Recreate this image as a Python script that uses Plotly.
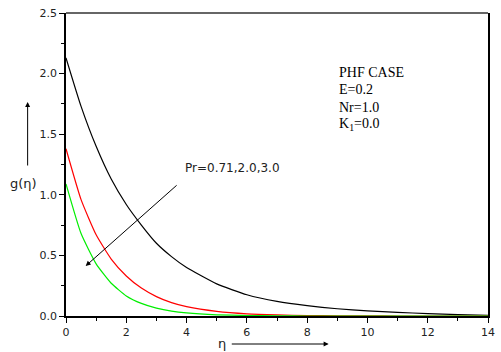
import plotly.graph_objects as go

eta = [0, 0.5, 1, 1.5, 2, 2.5, 3, 3.5, 4, 5, 6, 7, 8, 9, 10, 11, 12, 13, 14]
g_pr071 = [2.13, 1.73, 1.40, 1.13, 0.92, 0.75, 0.60, 0.49, 0.40, 0.265, 0.175, 0.12, 0.085, 0.06, 0.042, 0.03, 0.02, 0.012, 0.006]
g_pr20 = [1.38, 0.96, 0.67, 0.47, 0.33, 0.23, 0.16, 0.11, 0.077, 0.038, 0.018, 0.009, 0.004, 0.002, 0.001, 0.0, 0.0, 0.0, 0.0]
g_pr30 = [1.09, 0.68, 0.43, 0.27, 0.166, 0.104, 0.065, 0.04, 0.025, 0.01, 0.004, 0.001, 0.0, 0.0, 0.0, 0.0, 0.0, 0.0, 0.0]

fig = go.Figure()
for ys, col in [(g_pr071, "#000000"), (g_pr20, "#ff0000"), (g_pr30, "#00ee00")]:
    fig.add_trace(go.Scatter(x=eta, y=ys, mode="lines",
                             line=dict(color=col, width=1.2, shape="spline", smoothing=0.5),
                             showlegend=False, hoverinfo="skip"))

tickfont = dict(family="DejaVu Sans", size=11, color="#222")
fig.update_xaxes(range=[0, 14], tick0=0, dtick=2, ticks="outside", ticklen=5, tickwidth=1,
                 tickcolor="black", showline=True, linecolor="black", linewidth=1.5,
                 showgrid=False, zeroline=False, tickfont=tickfont,
                 minor=dict(tick0=0, dtick=1, ticks="outside", ticklen=3, tickcolor="black",
                            showgrid=False))
fig.update_yaxes(range=[0, 2.5], tick0=0, dtick=0.5, tickformat=".1f", ticks="outside", ticklen=5,
                 tickwidth=1, tickcolor="black", showline=True, linecolor="black", linewidth=1.5,
                 mirror=True, showgrid=False, zeroline=False, tickfont=tickfont,
                 minor=dict(tick0=0, dtick=0.25, ticks="outside", ticklen=3, tickcolor="black",
                            showgrid=False))

serif = dict(family="Liberation Serif, Times New Roman", size=14, color="black")
sans = dict(family="DejaVu Sans", size=12, color="#222")
sans_lbl = dict(family="DejaVu Sans", size=13, color="#222")

L, R, T, B = 66, 495, 13, 316
def px(xp):
    return (xp - L) / (R - L)
def py(yp):
    return (B - yp) / (B - T)

annots = [
    dict(x=341, y=73, text="PHF CASE", font=serif),
    dict(x=341, y=90, text="E=0.2", font=serif),
    dict(x=341, y=107, text="Nr=1.0", font=serif),
    dict(x=341, y=124, text="K<sub>1</sub>=0.0", font=serif),
    dict(x=185, y=168, text="Pr=0.71,2.0,3.0", font=sans),
]
for a in annots:
    fig.add_annotation(x=px(a["x"]), y=py(a["y"]), xref="x domain", yref="y domain",
                       text=a["text"], font=a["font"], showarrow=False,
                       xanchor="left", yanchor="middle")

def arrow(x0, y0, x1, y1):
    fig.add_annotation(x=px(x1), y=py(y1), ax=px(x0), ay=py(y0), xref="x domain", yref="y domain",
                       axref="x domain", ayref="y domain", showarrow=True, arrowhead=2,
                       arrowsize=1, arrowwidth=1, arrowcolor="black", text="")

arrow(180, 184, 86, 266)
arrow(27, 167, 27, 102)
arrow(233, 344, 333, 344)

fig.add_annotation(x=px(23), y=py(183), xref="x domain", yref="y domain", text="g(η)",
                   font=sans_lbl, showarrow=False, xanchor="center", yanchor="middle")
fig.add_annotation(x=px(225), y=py(343), xref="x domain", yref="y domain", text="η",
                   font=sans_lbl, showarrow=False, xanchor="center", yanchor="middle")

fig.add_shape(type="line", xref="paper", yref="paper", x0=0, x1=1, y0=1, y1=1,
              line=dict(color="#666", width=2))

fig.update_layout(width=501, height=352, margin=dict(l=L, r=501 - R, t=T, b=352 - B),
                  paper_bgcolor="white", plot_bgcolor="white")
fig.write_html("out.html")
